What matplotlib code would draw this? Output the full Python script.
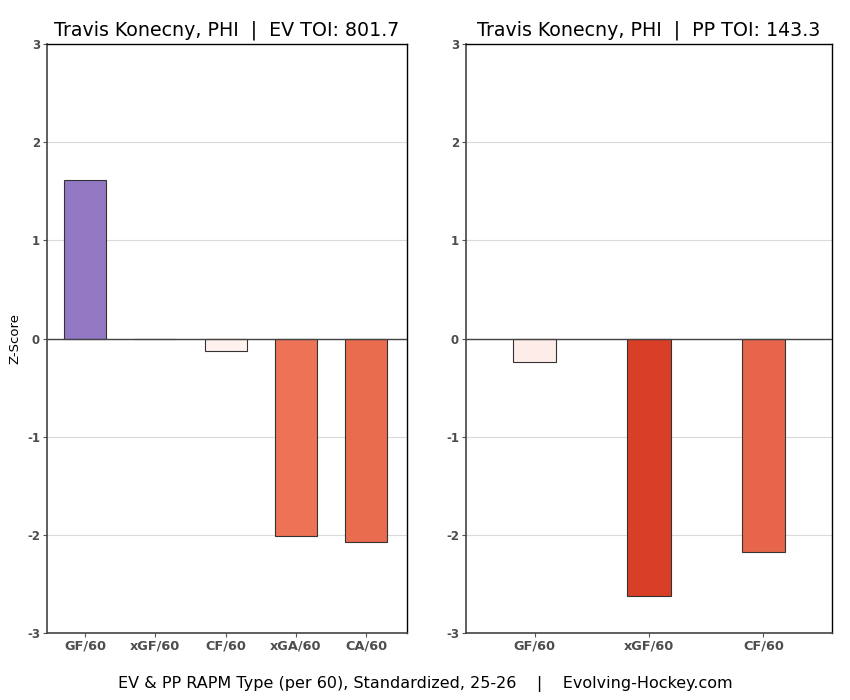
import matplotlib
matplotlib.use("Agg")
import matplotlib.pyplot as plt

ev_cats = ["GF/60", "xGF/60", "CF/60", "xGA/60", "CA/60"]
ev_vals = [1.61, 0.0, -0.13, -2.01, -2.07]
ev_colors = ["#9378C4", "#FCE8E4", "#FEF1EE", "#EE7356", "#E96C4F"]

pp_cats = ["GF/60", "xGF/60", "CF/60"]
pp_vals = [-0.24, -2.62, -2.17]
pp_colors = ["#FEECE9", "#D93F26", "#E7664B"]

yticks = [-3, -2, -1, 0, 1, 2, 3]

ev_title = "Travis Konecny, PHI  |  EV TOI: 801.7"
pp_title = "Travis Konecny, PHI  |  PP TOI: 143.3"
footer = "EV & PP RAPM Type (per 60), Standardized, 25-26    |    Evolving-Hockey.com"

fig = plt.figure(figsize=(8.5, 7), dpi=100)
ax1 = fig.add_axes([47/850, 1-633/700, 360/850, 589/700])
ax2 = fig.add_axes([466/850, 1-633/700, 366/850, 589/700])

def style(ax, cats, vals, colors, width, xlim, title, ylabel=None):
    x = list(range(len(cats)))
    ax.set_axisbelow(True)
    ax.yaxis.grid(True, color="#DADADA", linewidth=0.8)
    ax.bar(x, vals, width=width, color=colors, edgecolor="#333333", linewidth=0.8, zorder=3)
    ax.axhline(0, color="#444444", linewidth=1.0, zorder=4)
    ax.set_ylim(-3, 3)
    ax.set_xlim(*xlim)
    ax.set_yticks(yticks)
    ax.set_yticklabels([str(t) for t in yticks])
    ax.set_xticks(x)
    ax.set_xticklabels(cats)
    for lab in ax.get_xticklabels():
        lab.set_fontfamily("DejaVu Sans")
        lab.set_fontweight("bold")
        lab.set_color("#4D4D4D")
        lab.set_fontsize(9.3)
    for lab in ax.get_yticklabels():
        lab.set_fontfamily("DejaVu Sans")
        lab.set_fontweight("bold")
        lab.set_color("#4D4D4D")
        lab.set_fontsize(8.5)
    ax.tick_params(axis="both", length=3, width=0.8, color="#555555", pad=2)
    for s in ["left", "bottom"]:
        ax.spines[s].set_color("#444444")
        ax.spines[s].set_linewidth(1.2)
    for s in ["top", "right"]:
        ax.spines[s].set_color("#000000")
        ax.spines[s].set_linewidth(1.0)
    ax.set_title(title, fontsize=13.7, pad=6)
    if ylabel:
        ax.set_ylabel(ylabel, fontsize=9.5, labelpad=4)

style(ax1, ev_cats, ev_vals, ev_colors, 0.6, (-0.54, 4.58), ev_title, "Z-Score")
style(ax2, pp_cats, pp_vals, pp_colors, 0.38, (-0.6, 2.6), pp_title)

fig.text(0.5, 1-684/700, footer, ha="center", va="center", fontsize=11.5)

fig.savefig("out.png", dpi=100)
